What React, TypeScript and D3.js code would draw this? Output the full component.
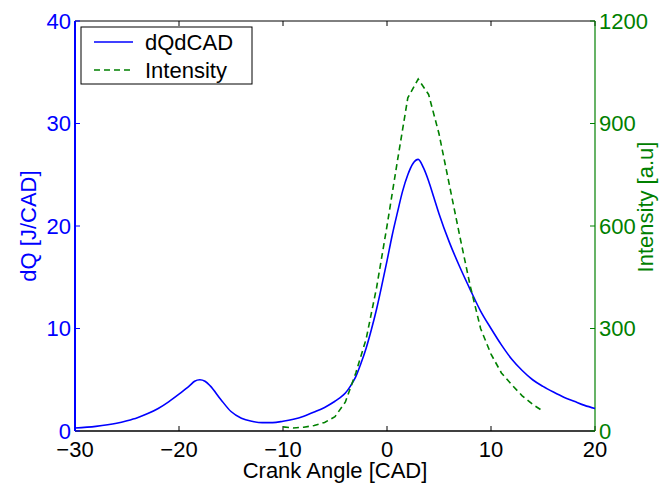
import React from "react";
import * as d3 from "d3";

const xTicks = [-30, -20, -10, 0, 10, 20];
const yLeftTicks = [0, 10, 20, 30, 40];
const yRightTicks = [0, 300, 600, 900, 1200];

const dqX = [-30, -28, -26, -25, -24, -23, -22, -21, -20, -19, -18.5, -18, -17.5, -17, -16, -15, -14, -13, -12, -11, -10, -9, -8, -7, -6, -5, -4.5, -4, -3.5, -3, -2.5, -2, -1.5, -1, -0.5, 0, 0.5, 1, 1.5, 2, 2.5, 3, 3.5, 4, 4.5, 5, 6, 7, 8, 9, 10, 11, 12, 13, 14, 15, 16, 17, 18, 19, 20];
const dqY = [0.3, 0.45, 0.75, 1.0, 1.3, 1.7, 2.2, 2.85, 3.6, 4.4, 4.85, 5.0, 4.85, 4.4, 3.1, 1.9, 1.25, 0.95, 0.82, 0.82, 0.95, 1.15, 1.45, 1.85, 2.3, 2.9, 3.25, 3.7, 4.4, 5.3, 6.6, 8.1, 9.9, 11.9, 14.2, 16.6, 19.1, 21.3, 23.4, 25.0, 26.1, 26.5, 25.7, 24.4, 22.8, 21.2, 18.4, 16.0, 13.8, 11.7, 10.0, 8.4, 7.0, 5.9, 5.0, 4.35, 3.8, 3.3, 2.9, 2.5, 2.2];

const intX = [-10, -9, -8, -7, -6, -5, -4, -3, -2, -1, 0, 1, 2, 3, 4, 5, 6, 7, 8, 9, 10, 11, 12, 13, 14, 15];
const intY = [12, 9, 11, 16, 25, 42, 85, 170, 270, 420, 600, 790, 975, 1030, 985, 870, 720, 570, 425, 300, 225, 170, 135, 103, 78, 58];

const W = 668;
const H = 483;
const left = 75;
const right = 595;
const top = 21;
const bottom = 431;
const FONT = "'Liberation Sans', Arial, Helvetica, sans-serif";
const BLUE = "#0000ff";
const GREEN = "#008000";

export default function App() {
  const x = d3.scaleLinear().domain([-30, 20]).range([left, right]);
  const yL = d3.scaleLinear().domain([0, 40]).range([bottom, top]);
  const yR = d3.scaleLinear().domain([0, 1200]).range([bottom, top]);

  const dqLine = d3
    .line<number>()
    .x((_, i) => x(dqX[i]))
    .y((d) => yL(d))
    .curve(d3.curveMonotoneX);
  const intLine = d3
    .line<number>()
    .x((_, i) => x(intX[i]))
    .y((d) => yR(d));

  const fmt = (v: number) => (v < 0 ? "\u2212" + Math.abs(v) : String(v));
  const fs = 22;

  return (
    <svg
      width={W}
      height={H}
      style={{ position: "absolute", left: 0, top: 0, background: "#fff" }}
      fontFamily={FONT}
    >
      <rect x={0} y={0} width={W} height={H} fill="#fff" />
      <line x1={left} x2={right} y1={top} y2={top} stroke="#000" strokeWidth={1} />
      <line x1={left} x2={right} y1={bottom} y2={bottom} stroke="#000" strokeWidth={1.5} />
      {xTicks.map((t) => (
        <g key={"xt" + t}>
          <line x1={x(t)} x2={x(t)} y1={bottom} y2={bottom - 5} stroke="#000" />
          <line x1={x(t)} x2={x(t)} y1={top} y2={top + 5} stroke="#000" />
          <text x={x(t)} y={457} fontSize={fs} textAnchor="middle" fill="#000">
            {fmt(t)}
          </text>
        </g>
      ))}
      <line x1={left} x2={left} y1={top} y2={bottom} stroke={BLUE} strokeWidth={2} />
      {yLeftTicks.map((t) => (
        <g key={"yl" + t}>
          <line x1={left} x2={left + 5} y1={yL(t)} y2={yL(t)} stroke={BLUE} />
          <text x={71} y={yL(t)} dy="0.36em" fontSize={fs} textAnchor="end" fill={BLUE}>
            {t}
          </text>
        </g>
      ))}
      <line x1={right} x2={right} y1={top} y2={bottom} stroke={GREEN} strokeWidth={1.2} />
      {yRightTicks.map((t) => (
        <g key={"yr" + t}>
          <line x1={right} x2={right - 5} y1={yR(t)} y2={yR(t)} stroke={GREEN} />
          <text x={599} y={yR(t)} dy="0.36em" fontSize={fs} textAnchor="start" fill={GREEN}>
            {t}
          </text>
        </g>
      ))}
      <path d={dqLine(dqY) || ""} fill="none" stroke={BLUE} strokeWidth={1.6} />
      <path
        d={intLine(intY) || ""}
        fill="none"
        stroke={GREEN}
        strokeWidth={1.6}
        strokeDasharray="6,4"
      />
      <text x={335} y={478} fontSize={fs} textAnchor="middle" fill="#000">
        Crank Angle [CAD]
      </text>
      <text
        transform={`translate(36,226) rotate(-90)`}
        fontSize={fs}
        textAnchor="middle"
        fill={BLUE}
      >
        dQ [J/CAD]
      </text>
      <text
        transform={`translate(653,207) rotate(-90)`}
        fontSize={fs}
        textAnchor="middle"
        fill={GREEN}
      >
        Intensity [a.u]
      </text>
      <rect x={81} y={27} width={171} height={57} fill="#fff" stroke="#000" strokeWidth={1} />
      <line x1={94} x2={133} y1={42} y2={42} stroke={BLUE} strokeWidth={1.6} />
      <text x={145} y={50} fontSize={fs} fill="#000">
        dQdCAD
      </text>
      <line x1={94} x2={133} y1={70} y2={70} stroke={GREEN} strokeWidth={1.6} strokeDasharray="6,4" />
      <text x={145} y={78} fontSize={fs} fill="#000">
        Intensity
      </text>
    </svg>
  );
}
